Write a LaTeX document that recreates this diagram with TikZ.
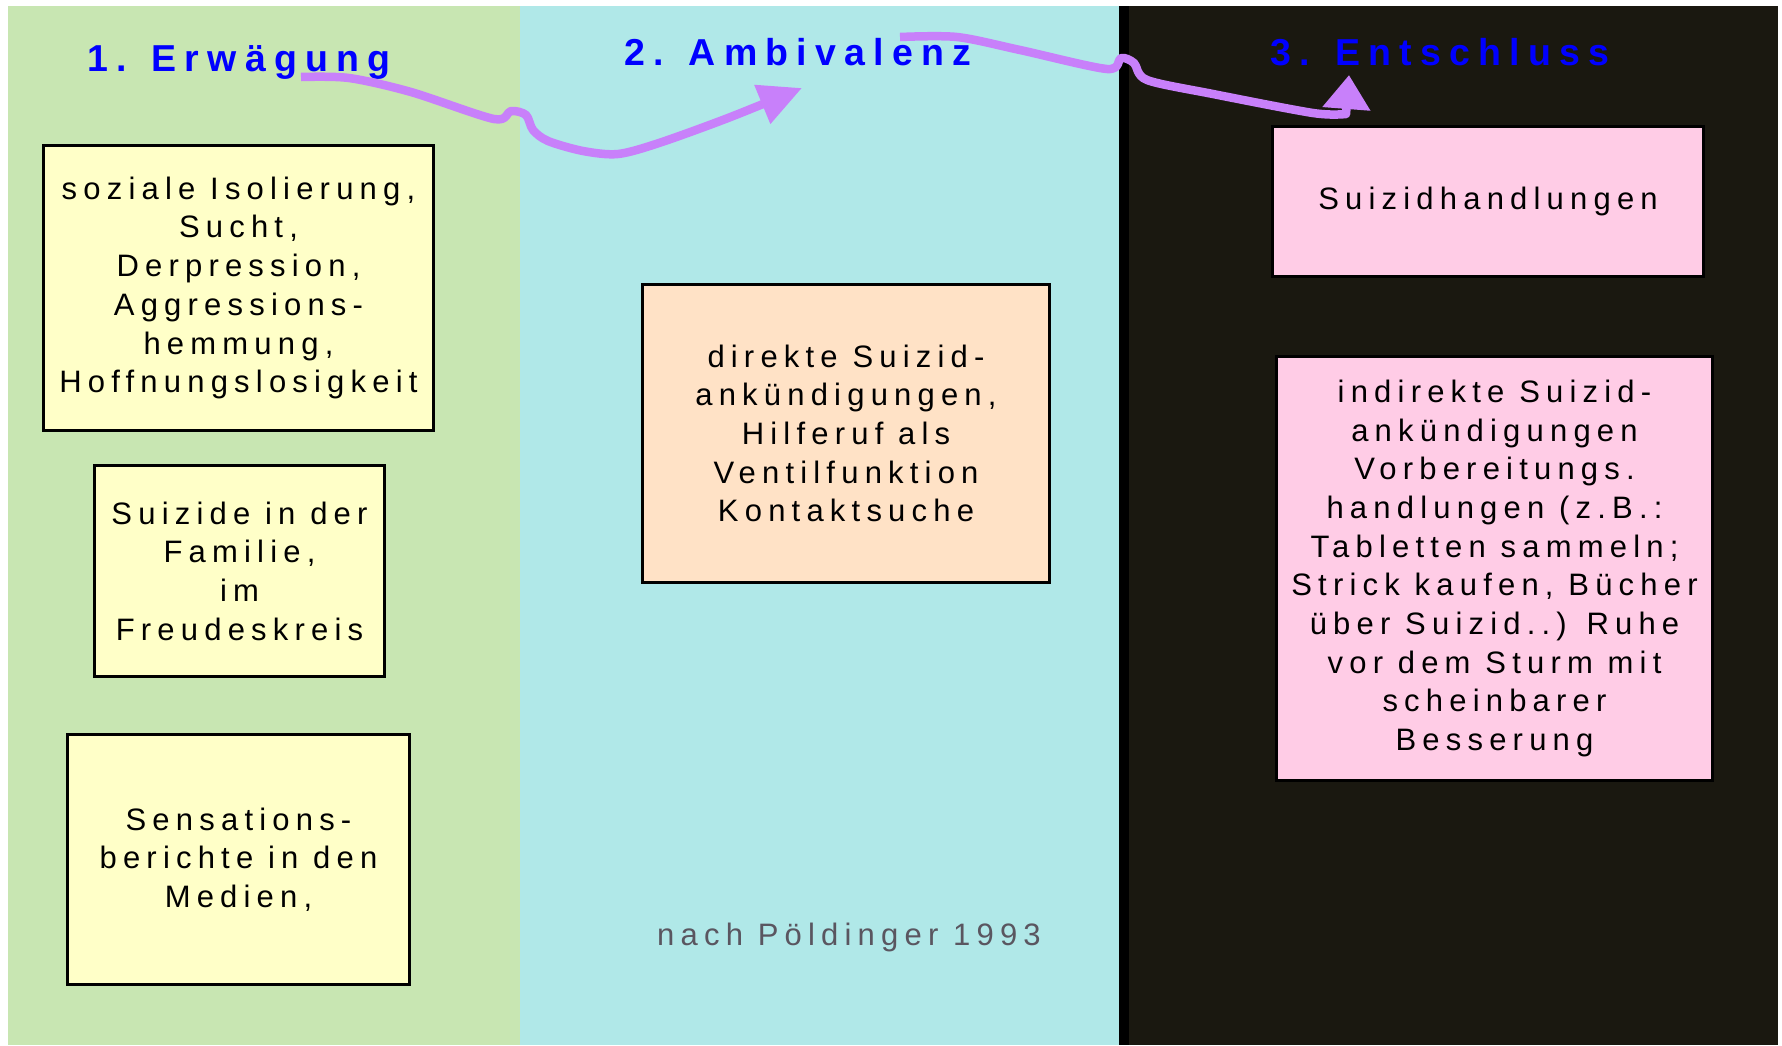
\documentclass[tikz,border=0pt]{standalone}
\usepackage{fontspec}
\setmainfont{Liberation Sans}
\newfontfamily\boxfont{Liberation Sans}[LetterSpace=20]
\newfontfamily\headfont{Liberation Sans}[LetterSpace=22]
\usetikzlibrary{positioning,arrows.meta}

\definecolor{phaseA}{RGB}{200,230,178}
\definecolor{phaseB}{RGB}{176,232,232}
\definecolor{phaseC}{RGB}{26,24,16}
\definecolor{boxyellow}{RGB}{255,255,200}
\definecolor{boxpeach}{RGB}{255,226,198}
\definecolor{boxpink}{RGB}{255,204,230}
\definecolor{titleblue}{RGB}{0,0,255}
\definecolor{wavepurple}{RGB}{200,128,250}
\definecolor{footgray}{RGB}{90,86,96}

\begin{document}
\begin{tikzpicture}[x=1pt,y=1pt,on grid,
	box/.style={rectangle,draw,line width=3pt,align=center,inner sep=0pt,
		font=\boxfont\fontsize{31}{38.7}\selectfont},
	phase/.style={text=titleblue,anchor=base,
		font=\headfont\bfseries\fontsize{37.5}{44}\selectfont},
	wave/.style={draw=wavepurple,line width=8.5pt,line join=round}]
\useasboundingbox (0,0) rectangle (1782,-1045);
% the three columns
\fill[phaseA] (8,-6) rectangle (520,-1045);
\fill[phaseB] (520,-6) rectangle (1119,-1045);
\fill[phaseC] (1119,-6) rectangle (1778,-1045);
\fill[black] (1119,-6) rectangle (1129,-1045);

\node [phase] (erw) at (239,-71) {1. Erwägung};
\node [phase] (amb) at (798,-65) {2. Ambivalenz};
\node [phase] (ent) at (1440,-65) {3. Entschluss};

% column 1
\node [box,fill=boxyellow,minimum width=390pt,minimum height=285pt] (isol) at (238.5,-288)
	{soziale Isolierung,\\Sucht,\\Derpression,\\Aggressions-\\hemmung,\\Hoffnungslosigkeit};
\node [box,fill=boxyellow,minimum width=290pt,minimum height=211pt] (fam) [below=283pt of isol,xshift=1pt]
	{Suizide in der\\Familie,\\im\\Freudeskreis};
\node [box,fill=boxyellow,minimum width=342pt,minimum height=250pt] (med) [below=288.5pt of fam,xshift=-1pt]
	{Sensations-\\berichte in den\\Medien,};

% column 2
\node [box,fill=boxpeach,minimum width=407pt,minimum height=298pt] (dir) at (846,-433.5)
	{direkte Suizid-\\ankündigungen,\\Hilferuf als\\Ventilfunktion\\Kontaktsuche};
\node [text=footgray,anchor=base,font=\boxfont\fontsize{31}{38.7}\selectfont] (src) at (849,-945)
	{nach Pöldinger 1993};

% column 3
\node [box,fill=boxpink,minimum width=431pt,minimum height=150pt] (hand) at (1488,-201.5)
	{Suizidhandlungen};
\node [box,fill=boxpink,minimum width=436pt,minimum height=424pt] (indir) [below=367pt of hand,xshift=6.5pt]
	{indirekte Suizid-\\ankündigungen\\Vorbereitungs.\\handlungen (z.B.:\\Tabletten sammeln;\\Strick kaufen, Bücher\\über Suizid..) Ruhe\\vor dem Sturm mit\\scheinbarer\\Besserung};

% wavy arrows between the phases
\coordinate (w1s) at (301,-77);
\coordinate (w1e) at (802,-88);
\coordinate (w2s) at (900,-37);
\coordinate (w2e) at (1349,-75);
\draw [wave,-{Triangle[length=43pt,width=40pt]}] plot [smooth,tension=0.5] coordinates
	{(w1s) (349,-78) (411,-92) (494,-119) (511,-111) (526,-115) (533,-130) (548,-141)
	 (583,-151) (618,-154) (659,-143) (728,-118) (w1e)};
\draw [wave,-{Triangle[length=34pt,width=46pt]}] plot [smooth,tension=0.5] coordinates
	{(w2s) (957,-37) (1020,-50) (1107,-69) (1121,-58) (1134,-63) (1147,-80) (1213,-94)
	 (1313,-113) (1346,-114)} -- (w2e);
\end{tikzpicture}
\end{document}
